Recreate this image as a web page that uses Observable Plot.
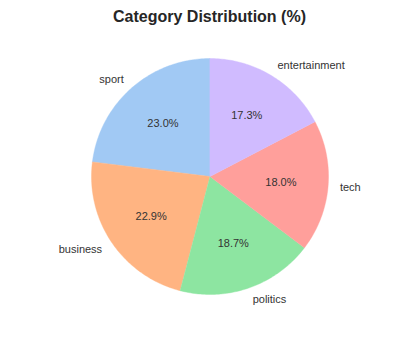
<!DOCTYPE html>
<html>
<head>
<meta charset="utf-8">
<script src="https://cdn.jsdelivr.net/npm/d3@7"></script>
<script src="https://cdn.jsdelivr.net/npm/@observablehq/plot@0.6"></script>
<style>
  html, body { margin: 0; padding: 0; background: #fff; }
  svg { display: block; }
</style>
</head>
<body>
<div id="chart"></div>
<script>
// Share of articles per category
const categories = ["sport", "business", "politics", "tech", "entertainment"];
const shares = [23.0, 22.9, 18.7, 18.0, 17.3];
const colors = ["#a1c9f4", "#ffb482", "#8de5a1", "#ff9f9b", "#d0bbff"];
const title = "Category Distribution (%)";

// Slices start at 12 o'clock and run counterclockwise
const total = d3.sum(shares);
const startDeg = 90;
const slices = [];
let acc = 0;
categories.forEach((c, i) => {
  const a0 = (startDeg + acc / total * 360) * Math.PI / 180;
  acc += shares[i];
  const a1 = (startDeg + acc / total * 360) * Math.PI / 180;
  slices.push({category: c, value: shares[i], a0, a1, mid: (a0 + a1) / 2});
});

// Polygon outline of every wedge on a unit circle
const wedgePoints = slices.flatMap(s => {
  const n = Math.max(8, Math.ceil((s.a1 - s.a0) / (Math.PI / 180)));
  const pts = [{category: s.category, x: 0, y: 0}];
  for (let k = 0; k <= n; ++k) {
    const a = s.a0 + (s.a1 - s.a0) * k / n;
    pts.push({category: s.category, x: Math.cos(a), y: Math.sin(a)});
  }
  return pts;
});

const font = "Liberation Sans, Arial, sans-serif";
const labelR = 1.1, pctR = 0.6;
const rightSide = slices.filter(s => Math.cos(s.mid) >= 0);
const leftSide = slices.filter(s => Math.cos(s.mid) < 0);
const labelOpts = {
  x: d => labelR * Math.cos(d.mid),
  y: d => labelR * Math.sin(d.mid),
  text: "category",
  fontSize: 11, fill: "#333"
};

const chart = Plot.plot({
  width: 400,
  height: 347,
  margin: 0,
  style: {fontFamily: font, background: "#fff"},
  x: {domain: [-1, 1], range: [91, 328], axis: null},
  y: {domain: [-1, 1], range: [294, 58], axis: null},
  color: {domain: categories, range: colors},
  marks: [
    Plot.line(wedgePoints, {
      x: "x", y: "y", z: "category",
      fill: "category", stroke: "category", strokeWidth: 0.4,
      curve: "linear-closed"
    }),
    // percentage inside each wedge
    Plot.text(slices, {
      x: d => pctR * Math.cos(d.mid),
      y: d => pctR * Math.sin(d.mid),
      text: d => d.value.toFixed(1) + "%",
      fontSize: 11, fill: "#333"
    }),
    // category names outside the wedges, anchored away from the pie
    Plot.text(rightSide, {...labelOpts, textAnchor: "start"}),
    Plot.text(leftSide, {...labelOpts, textAnchor: "end"}),
    Plot.text([title], {
      frameAnchor: "top", dx: 9, dy: 10.5,
      fontSize: 16, fontWeight: "bold", fill: "#262626"
    })
  ]
});

document.getElementById("chart").append(chart);
</script>
</body>
</html>
